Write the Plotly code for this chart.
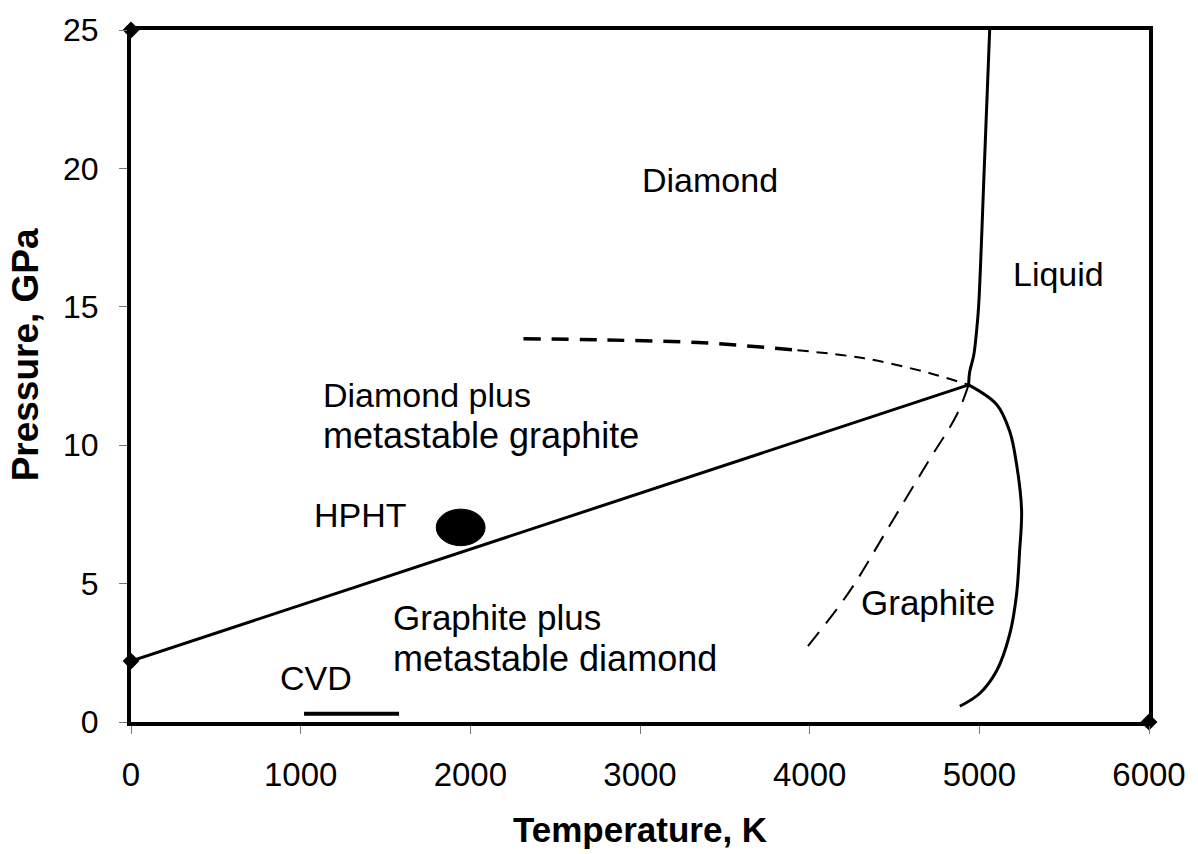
import plotly.graph_objects as go

# ---- data ----
gd_T = [0, 4937]                     # graphite/diamond equilibrium line
gd_P = [2.2, 12.18]

melt_dia_T = [4937, 4943, 4967, 4984, 4996, 5029, 5061]   # diamond / liquid
melt_dia_P = [12.18, 12.64, 13.25, 14.14, 15.03, 20.0, 25.0]

melt_gr_T = [4937, 5102, 5179, 5219, 5249, 5237, 5219, 5179, 5102, 5002, 4885]  # graphite / liquid
melt_gr_P = [12.18, 11.47, 10.5, 9.33, 7.66, 6.13, 4.59, 3.17, 1.85, 1.03, 0.57]

meta_gr_T = [4937, 4867, 4691, 4456, 4233, 3957]   # metastable graphite extension (dashed)
meta_gr_P = [12.18, 11.1, 9.33, 6.94, 4.70, 2.49]

meta_dia_T_thick = [2313, 2800, 3341, 3928]        # metastable diamond extension (dashed)
meta_dia_P_thick = [13.85, 13.80, 13.71, 13.43]
meta_dia_T_thin = [3928, 4321, 4709, 4937]
meta_dia_P_thin = [13.43, 13.14, 12.6, 12.18]

cvd_T = [1020, 1580]
cvd_P = [0.3, 0.3]

hpht_T, hpht_P = 1943, 7.03
hpht_dT, hpht_dP = 144, 0.66

corner_T = [0, 6000, 0]
corner_P = [25, 0, 2.2]

x_ticks = [0, 1000, 2000, 3000, 4000, 5000, 6000]
y_ticks = [0, 5, 10, 15, 20, 25]

FONT = "Liberation Sans, Arial, sans-serif"

fig = go.Figure()

def line(x, y, width=3, dash="solid", shape="linear"):
    fig.add_trace(go.Scatter(x=x, y=y, mode="lines",
                             line=dict(color="black", width=width, dash=dash, shape=shape),
                             showlegend=False, hoverinfo="skip", cliponaxis=False))

line(gd_T, gd_P, 3)
line(melt_dia_T, melt_dia_P, 3, shape="spline")
line(melt_gr_T, melt_gr_P, 3, shape="spline")
line(meta_gr_T, meta_gr_P, 2, "18px,11px", shape="spline")
line(meta_dia_T_thick, meta_dia_P_thick, 3.5, "17px,11px", shape="spline")
line(meta_dia_T_thin, meta_dia_P_thin, 2, "11px,8px", shape="spline")
line(cvd_T, cvd_P, 4)

fig.add_trace(go.Scatter(x=corner_T, y=corner_P, mode="markers",
                         marker=dict(symbol="diamond", size=13, color="black"),
                         showlegend=False, hoverinfo="skip", cliponaxis=False))

fig.add_shape(type="circle", xref="x", yref="y",
              x0=hpht_T - hpht_dT, x1=hpht_T + hpht_dT,
              y0=hpht_P - hpht_dP, y1=hpht_P + hpht_dP,
              fillcolor="black", line=dict(color="black", width=1))

labels = [
    ("Diamond", 3411, 19.59, "center", 34),
    ("Liquid", 5466, 16.2, "center", 34),
    ("Diamond plus", 1121, 11.8, "left", 34),
    ("metastable graphite", 1121, 10.36, "left", 36),
    ("HPHT", 1351, 7.48, "center", 34),
    ("Graphite plus", 1532, 3.76, "left", 35),
    ("metastable diamond", 1532, 2.28, "left", 36),
    ("CVD", 1092, 1.60, "center", 34),
    ("Graphite", 4700, 4.31, "center", 35),
]
for txt, x, y, anc, fs in labels:
    fig.add_annotation(x=x, y=y, text=txt, showarrow=False, xanchor=anc,
                       yanchor="middle", font=dict(family=FONT, size=fs, color="black"))

fig.add_annotation(xref="paper", yref="paper", x=0.5, y=-0.155, text="<b>Temperature, K</b>",
                   showarrow=False, xanchor="center", yanchor="middle",
                   font=dict(family=FONT, size=35, color="black"))
fig.add_annotation(xref="paper", yref="paper", x=-0.104, y=0.53, text="<b>Pressure, GPa</b>",
                   textangle=-90, showarrow=False, xanchor="center", yanchor="middle",
                   font=dict(family=FONT, size=37, color="black"))

fig.update_layout(
    width=1198, height=854,
    margin=dict(l=131, r=45, t=20, b=132),
    paper_bgcolor="white", plot_bgcolor="white",
    font=dict(family=FONT, color="black"),
    xaxis=dict(range=[0, 6000], tickvals=x_ticks, ticktext=[str(v) for v in x_ticks],
               showline=True, linecolor="black", linewidth=4, mirror=True,
               ticks="outside", ticklen=8, tickwidth=1, tickcolor="#777",
               showgrid=False, zeroline=False, tickfont=dict(size=33, family=FONT),
               ticklabelstandoff=12),
    yaxis=dict(range=[0, 25], tickvals=y_ticks, ticktext=[str(v) for v in y_ticks],
               showline=True, linecolor="black", linewidth=4, mirror=True,
               ticks="outside", ticklen=8, tickwidth=1, tickcolor="#777",
               showgrid=False, zeroline=False, tickfont=dict(size=32, family=FONT),
               ticklabelstandoff=14),
)

fig.write_html("out.html")
